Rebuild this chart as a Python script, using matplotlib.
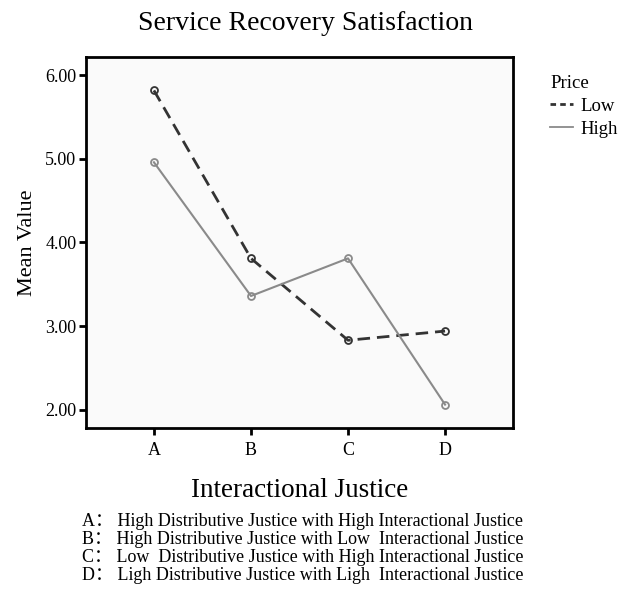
import matplotlib
matplotlib.use("Agg")
import matplotlib.pyplot as plt
from matplotlib.lines import Line2D

categories = ["A", "B", "C", "D"]
low_values = [5.82, 3.81, 2.83, 2.94]
high_values = [4.96, 3.36, 3.81, 2.06]
yticks = [2.0, 3.0, 4.0, 5.0, 6.0]
notes = [
    "A\uff1a High Distributive Justice with High Interactional Justice",
    "B\uff1a High Distributive Justice with Low  Interactional Justice",
    "C\uff1a Low  Distributive Justice with High Interactional Justice",
    "D\uff1a Ligh Distributive Justice with Ligh  Interactional Justice",
]

serif = ["Liberation Serif", "Noto Sans CJK SC", "DejaVu Sans"]
plt.rcParams["font.family"] = serif

fig = plt.figure(figsize=(6.22, 5.89), dpi=100)
ax = fig.add_axes([86/622, 1-428/589, (513-86)/622, (428-57)/589])
ax.set_facecolor("#fafafa")

x = list(range(len(categories)))
ax.plot(x, low_values, color="#333333", lw=2.0, ls=(0, (4.5, 2.5)), marker="o",
        ms=5, mfc="none", mec="#333333", mew=1.3, label="Low")
ax.plot(x, high_values, color="#8a8a8a", lw=1.5, ls="-", marker="o",
        ms=5, mfc="none", mec="#8a8a8a", mew=1.3, label="High")

ax.set_xlim(-0.7, 3.7)
ax.set_ylim(1.78, 6.22)
ax.set_xticks(x)
ax.set_xticklabels(categories, fontsize=13)
ax.set_yticks(yticks)
ax.set_yticklabels([f"{v:.2f}" for v in yticks], fontsize=13)
ax.tick_params(axis="both", length=5, width=2, color="black", pad=2)
ax.tick_params(axis="x", pad=5)
for s in ax.spines.values():
    s.set_linewidth(2.0)
    s.set_color("black")

ax.set_xlabel("Interactional Justice", fontsize=19.5, labelpad=14)
ax.set_ylabel("Mean Value", fontsize=16, labelpad=6)
fig.text(305/622, 1-24/589, "Service Recovery Satisfaction", fontsize=20,
         ha="center", va="center")

handles = [
    Line2D([], [], color="#333333", lw=2.0, ls=(0, (2, 1.5))),
    Line2D([], [], color="#8a8a8a", lw=1.3, ls="-"),
]
leg = fig.legend(handles, ["Low", "High"], title="Price", loc="upper left",
                 bbox_to_anchor=(550/622, 1-75/589), frameon=False,
                 fontsize=13.5, title_fontsize=13.5, handlelength=1.25,
                 handletextpad=0.4, labelspacing=0.3, borderpad=0,
                 borderaxespad=0)
leg._legend_box.align = "left"

for i, line in enumerate(notes):
    fig.text(82/622, 1-(522 + i*17.7)/589, line, fontsize=13, ha="left",
             va="center", family=serif)

fig.savefig("out.png", dpi=100)
